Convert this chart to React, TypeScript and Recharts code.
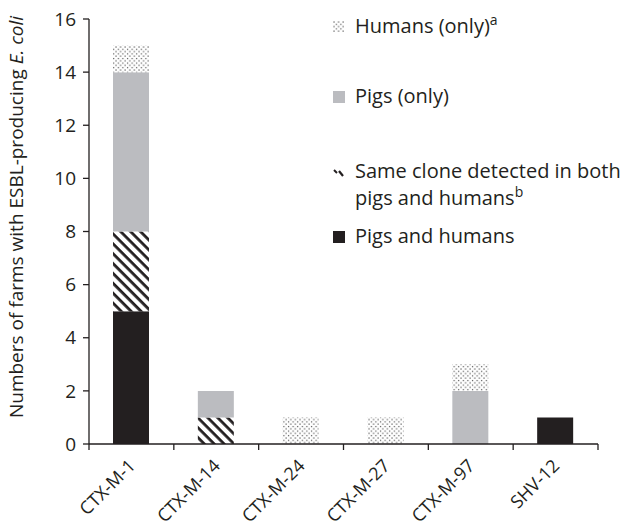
import { BarChart, Bar, XAxis, YAxis } from "recharts";

const genes = ["CTX-M-1", "CTX-M-14", "CTX-M-24", "CTX-M-27", "CTX-M-97", "SHV-12"];
const pigsAndHumans = [5, 0, 0, 0, 0, 1];
const sameClone = [3, 1, 0, 0, 0, 0];
const pigsOnly = [6, 1, 0, 0, 2, 0];
const humansOnly = [1, 0, 1, 1, 1, 0];
const yTicks = [0, 2, 4, 6, 8, 10, 12, 14, 16];

const data = genes.map((g, i) => ({
  gene: g,
  both: pigsAndHumans[i],
  clone: sameClone[i],
  pigs: pigsOnly[i],
  humans: humansOnly[i],
}));

const FONT = "'Open Sans', sans-serif";
const INK = "#231f20";
const GREY = "#bbbcc0";

function XTick(props: any) {
  const { x, y, payload, index } = props;
  const half = 509 / 6 / 2;
  return (
    <g>
      <line x1={x - half} x2={x - half} y1={y - 8} y2={y - 2} stroke={INK} strokeWidth={1.3} />
      {index === genes.length - 1 && (
        <line x1={x + half} x2={x + half} y1={y - 8} y2={y - 2} stroke={INK} strokeWidth={1.3} />
      )}
      <text
        x={x + 5}
        y={y + 15}
        textAnchor="end"
        transform={`rotate(-45, ${x + 5}, ${y + 15})`}
        fontSize={18}
        fill={INK}
        fontFamily={FONT}
      >
        {payload.value}
      </text>
    </g>
  );
}

function YLabel() {
  return (
    <text
      x={16}
      y={217}
      transform="rotate(-90, 16, 217)"
      textAnchor="middle"
      fontSize={19}
      fill={INK}
      fontFamily={FONT}
      dominantBaseline="central"
    >
      Numbers of farms with ESBL-producing <tspan fontStyle="italic">E. coli</tspan>
    </text>
  );
}

const legendText: React.CSSProperties = {
  position: "absolute",
  left: 355,
  fontFamily: FONT,
  fontSize: 20,
  color: INK,
  lineHeight: "22px",
  whiteSpace: "nowrap",
};

function Legend() {
  return (
    <>
      <svg style={{ position: "absolute", left: 333, top: 21 }} width={11} height={11}>
        <rect width={11} height={11} fill="url(#dots)" />
      </svg>
      <div style={{ ...legendText, top: 15 }}>
        Humans (only)<sup style={{ fontSize: 14, lineHeight: 0 }}>a</sup>
      </div>

      <svg style={{ position: "absolute", left: 333, top: 91 }} width={12} height={12}>
        <rect width={12} height={12} fill={GREY} />
      </svg>
      <div style={{ ...legendText, top: 85 }}>Pigs (only)</div>

      <svg style={{ position: "absolute", left: 333, top: 168 }} width={11} height={10}>
        <line x1={1} y1={2} x2={4} y2={5} stroke={INK} strokeWidth={2} />
        <line x1={6} y1={3} x2={10} y2={8} stroke={INK} strokeWidth={2.2} />
      </svg>
      <div style={{ ...legendText, top: 160 }}>Same clone detected in both</div>
      <div style={{ ...legendText, top: 187 }}>
        pigs and humans<sup style={{ fontSize: 14, lineHeight: 0 }}>b</sup>
      </div>

      <svg style={{ position: "absolute", left: 333, top: 231 }} width={12} height={12}>
        <rect width={12} height={12} fill={INK} />
      </svg>
      <div style={{ ...legendText, top: 225 }}>Pigs and humans</div>
    </>
  );
}

export default function App() {
  return (
    <div style={{ position: "fixed", left: 0, top: 0, width: 634, height: 529, background: "#fff" }}>
      <BarChart
        width={634}
        height={529}
        data={data}
        margin={{ top: 19, right: 36, bottom: 0, left: 29 }}
        barCategoryGap={0}
      >
        <defs>
          <pattern id="dots" width={4.6} height={4.6} patternUnits="userSpaceOnUse">
            <rect width={4.6} height={4.6} fill="#fff" />
            <rect x={0.4} y={0.4} width={1.2} height={1.2} fill="#555" />
            <rect x={2.7} y={2.7} width={1.2} height={1.2} fill="#555" />
          </pattern>
          <pattern
            id="hatch"
            width={7}
            height={7}
            patternUnits="userSpaceOnUse"
            patternTransform="rotate(45)"
          >
            <rect width={7} height={7} fill="#fff" />
            <rect width={7} height={2.8} fill={INK} />
          </pattern>
        </defs>
        <XAxis
          dataKey="gene"
          height={85}
          axisLine={{ stroke: INK, strokeWidth: 1.3 }}
          tickLine={false}
          tick={<XTick />}
          interval={0}
        />
        <YAxis
          width={60}
          domain={[0, 16]}
          ticks={yTicks}
          axisLine={{ stroke: INK, strokeWidth: 1.3 }}
          tickLine={{ stroke: INK, strokeWidth: 1.3 }}
          tickSize={6}
          tickMargin={7}
          tick={{ fontSize: 19, fill: INK, fontFamily: FONT }}
          label={<YLabel />}
        />
        <Bar dataKey="both" stackId="a" fill={INK} barSize={36} isAnimationActive={false} />
        <Bar dataKey="clone" stackId="a" fill="url(#hatch)" barSize={36} isAnimationActive={false} />
        <Bar dataKey="pigs" stackId="a" fill={GREY} barSize={36} isAnimationActive={false} />
        <Bar dataKey="humans" stackId="a" fill="url(#dots)" barSize={36} isAnimationActive={false} />
      </BarChart>
      <Legend />
    </div>
  );
}
